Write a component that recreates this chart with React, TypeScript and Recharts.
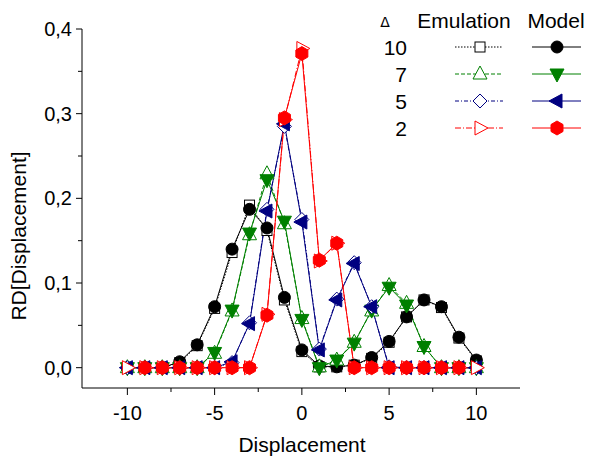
import React from "react";
import { LineChart, Line, XAxis, YAxis } from "recharts";

// ─── Data ─────────────────────────────────────────────────────────────────────

const displacement = [-10, -9, -8, -7, -6, -5, -4, -3, -2, -1, 0, 1, 2, 3, 4, 5, 6, 7, 8, 9, 10];

// Δ = 10
const emulation10 = [0, 0, 0, 0.006, 0.026, 0.07, 0.136, 0.192, 0.162, 0.08, 0.019, 0.001, 0.001, 0.003, 0.011, 0.03, 0.06, 0.08, 0.071, 0.035, 0.008];
const model10 = [0, 0, 0, 0.007, 0.027, 0.072, 0.14, 0.187, 0.165, 0.083, 0.021, 0.002, 0.001, 0.003, 0.012, 0.031, 0.06, 0.08, 0.072, 0.036, 0.009];

// Δ = 7
const emulation7 = [0, 0, 0, 0, 0, 0.017, 0.067, 0.157, 0.229, 0.17, 0.058, 0.001, 0.009, 0.03, 0.067, 0.097, 0.076, 0.025, 0, 0, 0];
const model7 = [0, 0, 0, 0, 0, 0.018, 0.068, 0.159, 0.222, 0.173, 0.057, 0, 0.009, 0.029, 0.068, 0.095, 0.074, 0.025, 0, 0, 0];

// Δ = 5
const emulation5 = [0, 0, 0, 0, 0, 0, 0.006, 0.053, 0.187, 0.285, 0.175, 0.022, 0.081, 0.124, 0.072, 0.001, 0, 0, 0, 0, 0];
const model5 = [0, 0, 0, 0, 0, 0, 0.007, 0.052, 0.185, 0.288, 0.172, 0.021, 0.08, 0.123, 0.072, 0, 0, 0, 0, 0, 0];

// Δ = 2
const emulation2 = [0, 0, 0, 0, 0, 0, 0, 0, 0.063, 0.293, 0.377, 0.126, 0.147, 0, 0, 0, 0, 0, 0, 0, 0];
const model2 = [null, 0, 0, 0, 0, 0, 0, 0, 0.062, 0.295, 0.371, 0.127, 0.147, 0, 0, 0, 0, 0, 0, 0, null];

const xTicks = [-10, -7.5, -5, -2.5, 0, 2.5, 5, 7.5, 10];
const yTicks = [0, 0.05, 0.1, 0.15, 0.2, 0.25, 0.3, 0.35, 0.4];
const deltaLabels = ["10", "7", "5", "2"];

const data = displacement.map((x, i) => ({
  x,
  e10: emulation10[i],
  m10: model10[i],
  e7: emulation7[i],
  m7: model7[i],
  e5: emulation5[i],
  m5: model5[i],
  e2: emulation2[i],
  m2: model2[i],
}));

// ─── Styling ──────────────────────────────────────────────────────────────────

const FONT = "'Liberation Sans', Arial, sans-serif";
const BLACK = "#000000";
const GREEN = "#008000";
const BLUE = "#000080";
const RED = "#ff0000";

type Shape = "square" | "circle" | "triUp" | "triDown" | "diamond" | "triLeft" | "triRight" | "hexagon";

interface SeriesDef {
  key: string;
  color: string;
  shape: Shape;
  filled: boolean;
  dash?: string;
}

const series: SeriesDef[] = [
  { key: "e10", color: BLACK, shape: "square", filled: false, dash: "1.5 1.5" },
  { key: "m10", color: BLACK, shape: "circle", filled: true },
  { key: "e7", color: GREEN, shape: "triUp", filled: false, dash: "4 2" },
  { key: "m7", color: GREEN, shape: "triDown", filled: true },
  { key: "e5", color: BLUE, shape: "diamond", filled: false, dash: "4 2 1 2" },
  { key: "m5", color: BLUE, shape: "triLeft", filled: true },
  { key: "e2", color: RED, shape: "triRight", filled: false, dash: "6 2 1 2" },
  { key: "m2", color: RED, shape: "hexagon", filled: true },
];

// ─── Markers ──────────────────────────────────────────────────────────────────

function Marker({ cx, cy, shape, color, filled }: { cx: number; cy: number; shape: Shape; color: string; filled: boolean }) {
  const fill = filled ? color : "#ffffff";
  const common = { fill, stroke: color, strokeWidth: 1 };
  const pts = (arr: number[][]) => arr.map(([a, b]) => `${cx + a},${cy + b}`).join(" ");
  switch (shape) {
    case "square":
      return <rect x={cx - 5} y={cy - 5} width={10} height={10} {...common} />;
    case "circle":
      return <circle cx={cx} cy={cy} r={6} {...common} />;
    case "triUp":
      return <polygon points={pts([[0, -8], [7, 5], [-7, 5]])} {...common} />;
    case "triDown":
      return <polygon points={pts([[0, 8], [7, -5], [-7, -5]])} {...common} />;
    case "diamond":
      return <polygon points={pts([[0, -7], [7, 0], [0, 7], [-7, 0]])} {...common} />;
    case "triLeft":
      return <polygon points={pts([[-8, 0], [5, -7], [5, 7]])} {...common} />;
    case "triRight":
      return <polygon points={pts([[8, 0], [-5, -7], [-5, 7]])} {...common} />;
    case "hexagon":
      return <polygon points={pts([[0, -7], [6, -3.5], [6, 3.5], [0, 7], [-6, 3.5], [-6, -3.5]])} {...common} />;
  }
  return null;
}

const makeDot = (s: SeriesDef) => (props: any) => {
  const { cx, cy, index } = props;
  if (cx == null || cy == null || props.value == null) return <g key={`${s.key}-${index}`} />;
  return (
    <g key={`${s.key}-${index}`}>
      <Marker cx={cx} cy={cy} shape={s.shape} color={s.color} filled={s.filled} />
    </g>
  );
};

// ─── Axis ticks ───────────────────────────────────────────────────────────────

const XTick = (props: any) => {
  const { x, y, payload } = props;
  const v = payload.value as number;
  const major = Math.abs(v / 5 - Math.round(v / 5)) < 1e-6;
  return (
    <g>
      <line x1={x} x2={x} y1={y} y2={y + (major ? 7 : 4)} stroke={BLACK} />
      {major && (
        <text x={x} y={y + 32} textAnchor="middle" fontSize={20} fontFamily={FONT} fill={BLACK}>
          {v}
        </text>
      )}
    </g>
  );
};

const YTick = (props: any) => {
  const { x, y, payload } = props;
  const v = payload.value as number;
  const major = Math.abs(v * 10 - Math.round(v * 10)) < 1e-6;
  return (
    <g>
      <line x1={x} x2={x - (major ? 6 : 4)} y1={y} y2={y} stroke={BLACK} />
      {major && (
        <text x={x - 10} y={y + 7} textAnchor="end" fontSize={20} fontFamily={FONT} fill={BLACK}>
          {v.toFixed(1).replace(".", ",")}
        </text>
      )}
    </g>
  );
};

// ─── Legend ───────────────────────────────────────────────────────────────────

function LegendOverlay() {
  const rows = [47, 74, 101, 128];
  const textStyle = { fontFamily: FONT, fontSize: 21, fill: BLACK };
  return (
    <svg width={590} height={458} style={{ position: "absolute", left: 0, top: 0, pointerEvents: "none" }}>
      <text x={385} y={27} textAnchor="middle" fontFamily="'DejaVu Sans', sans-serif" fontSize={14} fill={BLACK}>
        Δ
      </text>
      <text x={464} y={28} textAnchor="middle" {...textStyle}>
        Emulation
      </text>
      <text x={556} y={28} textAnchor="middle" {...textStyle}>
        Model
      </text>
      {deltaLabels.map((label, i) => {
        const y = rows[i];
        const emu = series[i * 2];
        const mod = series[i * 2 + 1];
        return (
          <g key={label}>
            <text x={407} y={y + 7.5} textAnchor="end" {...textStyle}>
              {label}
            </text>
            <line x1={455} x2={503} y1={y} y2={y} stroke={emu.color} strokeDasharray={emu.dash} />
            <Marker cx={480} cy={y} shape={emu.shape} color={emu.color} filled={false} />
            <line x1={532} x2={581} y1={y} y2={y} stroke={mod.color} />
            <Marker cx={557} cy={y} shape={mod.shape} color={mod.color} filled />
          </g>
        );
      })}
    </svg>
  );
}

// ─── Chart ────────────────────────────────────────────────────────────────────

export default function App() {
  return (
    <div style={{ position: "absolute", left: 0, top: 0, width: 590, height: 458, background: "#ffffff" }}>
      <LineChart width={590} height={458} data={data} margin={{ top: 29, right: 70, bottom: 0, left: 0 }}>
        <XAxis
          dataKey="x"
          type="number"
          domain={[-12.6, 12.5]}
          ticks={xTicks}
          interval={0}
          allowDataOverflow
          height={70}
          tickSize={0}
          tickMargin={0}
          tickLine={false}
          axisLine={{ stroke: BLACK, strokeWidth: 1 }}
          tick={<XTick />}
        />
        <YAxis
          type="number"
          domain={[-0.024, 0.4]}
          ticks={yTicks}
          interval={0}
          allowDataOverflow
          width={82}
          tickSize={0}
          tickMargin={0}
          tickLine={false}
          axisLine={{ stroke: BLACK, strokeWidth: 1 }}
          tick={<YTick />}
        />
        {series.map((s) => (
          <Line
            key={s.key}
            dataKey={s.key}
            type="linear"
            stroke={s.color}
            strokeWidth={1}
            strokeDasharray={s.dash}
            dot={makeDot(s)}
            activeDot={false}
            isAnimationActive={false}
            connectNulls={false}
          />
        ))}
      </LineChart>
      <svg width={590} height={458} style={{ position: "absolute", left: 0, top: 0, pointerEvents: "none" }}>
        <text x={302} y={452} textAnchor="middle" fontFamily={FONT} fontSize={21} fill={BLACK}>
          Displacement
        </text>
        <text
          x={26}
          y={236}
          textAnchor="middle"
          fontFamily={FONT}
          fontSize={21}
          fill={BLACK}
          transform="rotate(-90 26 236)"
        >
          RD[Displacement]
        </text>
      </svg>
      <LegendOverlay />
    </div>
  );
}
